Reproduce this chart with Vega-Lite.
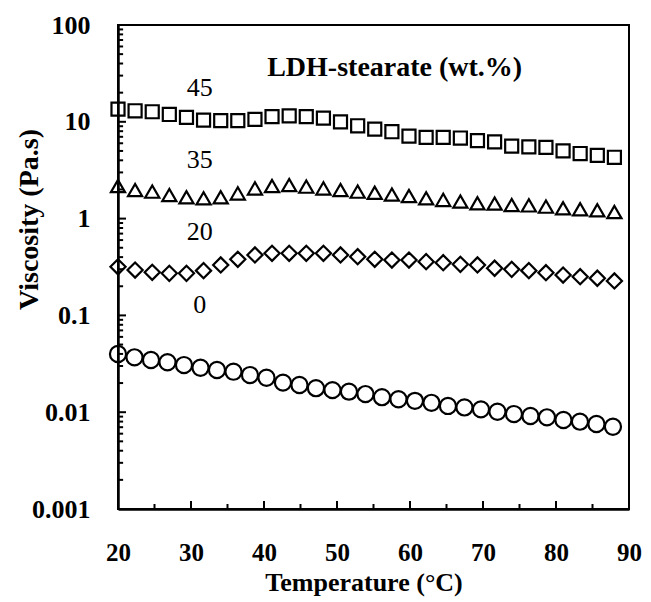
{
  "$schema": "https://vega.github.io/schema/vega-lite/v6.json",
  "autosize": "none",
  "width": 511,
  "height": 484,
  "padding": {"left": 118, "top": 25, "right": 22, "bottom": 93},
  "background": "white",
  "config": {
    "view": {"stroke": "black", "strokeWidth": 2},
    "font": "Liberation Serif"
  },
  "datasets": {
    "pts": [
      {"s": "45", "T": 20.00, "v": 13.5},
      {"s": "45", "T": 22.34, "v": 13.0},
      {"s": "45", "T": 24.69, "v": 12.7},
      {"s": "45", "T": 27.03, "v": 11.9},
      {"s": "45", "T": 29.38, "v": 11.1},
      {"s": "45", "T": 31.72, "v": 10.4},
      {"s": "45", "T": 34.07, "v": 10.3},
      {"s": "45", "T": 36.41, "v": 10.3},
      {"s": "45", "T": 38.76, "v": 10.6},
      {"s": "45", "T": 41.10, "v": 11.3},
      {"s": "45", "T": 43.45, "v": 11.5},
      {"s": "45", "T": 45.79, "v": 11.3},
      {"s": "45", "T": 48.14, "v": 10.9},
      {"s": "45", "T": 50.48, "v": 10.0},
      {"s": "45", "T": 52.83, "v": 9.1},
      {"s": "45", "T": 55.17, "v": 8.4},
      {"s": "45", "T": 57.52, "v": 7.9},
      {"s": "45", "T": 59.86, "v": 7.1},
      {"s": "45", "T": 62.21, "v": 6.9},
      {"s": "45", "T": 64.55, "v": 6.9},
      {"s": "45", "T": 66.90, "v": 6.8},
      {"s": "45", "T": 69.24, "v": 6.4},
      {"s": "45", "T": 71.59, "v": 6.2},
      {"s": "45", "T": 73.93, "v": 5.6},
      {"s": "45", "T": 76.28, "v": 5.5},
      {"s": "45", "T": 78.62, "v": 5.45},
      {"s": "45", "T": 80.97, "v": 5.0},
      {"s": "45", "T": 83.31, "v": 4.7},
      {"s": "45", "T": 85.66, "v": 4.5},
      {"s": "45", "T": 88.00, "v": 4.3},

      {"s": "35", "T": 20.00, "v": 2.17},
      {"s": "35", "T": 22.34, "v": 1.97},
      {"s": "35", "T": 24.69, "v": 1.90},
      {"s": "35", "T": 27.03, "v": 1.75},
      {"s": "35", "T": 29.38, "v": 1.66},
      {"s": "35", "T": 31.72, "v": 1.62},
      {"s": "35", "T": 34.07, "v": 1.66},
      {"s": "35", "T": 36.41, "v": 1.82},
      {"s": "35", "T": 38.76, "v": 2.05},
      {"s": "35", "T": 41.10, "v": 2.17},
      {"s": "35", "T": 43.45, "v": 2.22},
      {"s": "35", "T": 45.79, "v": 2.14},
      {"s": "35", "T": 48.14, "v": 2.05},
      {"s": "35", "T": 50.48, "v": 1.97},
      {"s": "35", "T": 52.83, "v": 1.90},
      {"s": "35", "T": 55.17, "v": 1.85},
      {"s": "35", "T": 57.52, "v": 1.77},
      {"s": "35", "T": 59.86, "v": 1.71},
      {"s": "35", "T": 62.21, "v": 1.62},
      {"s": "35", "T": 64.55, "v": 1.56},
      {"s": "35", "T": 66.90, "v": 1.50},
      {"s": "35", "T": 69.24, "v": 1.44},
      {"s": "35", "T": 71.59, "v": 1.43},
      {"s": "35", "T": 73.93, "v": 1.38},
      {"s": "35", "T": 76.28, "v": 1.37},
      {"s": "35", "T": 78.62, "v": 1.33},
      {"s": "35", "T": 80.97, "v": 1.28},
      {"s": "35", "T": 83.31, "v": 1.25},
      {"s": "35", "T": 85.66, "v": 1.22},
      {"s": "35", "T": 88.00, "v": 1.17},

      {"s": "20", "T": 20.00, "v": 0.318},
      {"s": "20", "T": 22.34, "v": 0.294},
      {"s": "20", "T": 24.69, "v": 0.279},
      {"s": "20", "T": 27.03, "v": 0.272},
      {"s": "20", "T": 29.38, "v": 0.272},
      {"s": "20", "T": 31.72, "v": 0.290},
      {"s": "20", "T": 34.07, "v": 0.332},
      {"s": "20", "T": 36.41, "v": 0.380},
      {"s": "20", "T": 38.76, "v": 0.421},
      {"s": "20", "T": 41.10, "v": 0.438},
      {"s": "20", "T": 43.45, "v": 0.438},
      {"s": "20", "T": 45.79, "v": 0.438},
      {"s": "20", "T": 48.14, "v": 0.438},
      {"s": "20", "T": 50.48, "v": 0.421},
      {"s": "20", "T": 52.83, "v": 0.404},
      {"s": "20", "T": 55.17, "v": 0.380},
      {"s": "20", "T": 57.52, "v": 0.373},
      {"s": "20", "T": 59.86, "v": 0.373},
      {"s": "20", "T": 62.21, "v": 0.359},
      {"s": "20", "T": 64.55, "v": 0.350},
      {"s": "20", "T": 66.90, "v": 0.337},
      {"s": "20", "T": 69.24, "v": 0.332},
      {"s": "20", "T": 71.59, "v": 0.307},
      {"s": "20", "T": 73.93, "v": 0.299},
      {"s": "20", "T": 76.28, "v": 0.290},
      {"s": "20", "T": 78.62, "v": 0.276},
      {"s": "20", "T": 80.97, "v": 0.261},
      {"s": "20", "T": 83.31, "v": 0.251},
      {"s": "20", "T": 85.66, "v": 0.242},
      {"s": "20", "T": 88.00, "v": 0.227},

      {"s": "0", "T": 20.00, "v": 0.0399},
      {"s": "0", "T": 22.26, "v": 0.0369},
      {"s": "0", "T": 24.52, "v": 0.0346},
      {"s": "0", "T": 26.78, "v": 0.0328},
      {"s": "0", "T": 29.04, "v": 0.0307},
      {"s": "0", "T": 31.30, "v": 0.0288},
      {"s": "0", "T": 33.56, "v": 0.0273},
      {"s": "0", "T": 35.82, "v": 0.0262},
      {"s": "0", "T": 38.08, "v": 0.0242},
      {"s": "0", "T": 40.34, "v": 0.0227},
      {"s": "0", "T": 42.60, "v": 0.0202},
      {"s": "0", "T": 44.86, "v": 0.0191},
      {"s": "0", "T": 47.12, "v": 0.0177},
      {"s": "0", "T": 49.38, "v": 0.0169},
      {"s": "0", "T": 51.64, "v": 0.0163},
      {"s": "0", "T": 53.90, "v": 0.0154},
      {"s": "0", "T": 56.16, "v": 0.0143},
      {"s": "0", "T": 58.42, "v": 0.0136},
      {"s": "0", "T": 60.68, "v": 0.0131},
      {"s": "0", "T": 62.94, "v": 0.0125},
      {"s": "0", "T": 65.20, "v": 0.0116},
      {"s": "0", "T": 67.46, "v": 0.0112},
      {"s": "0", "T": 69.72, "v": 0.0107},
      {"s": "0", "T": 71.98, "v": 0.0101},
      {"s": "0", "T": 74.24, "v": 0.00957},
      {"s": "0", "T": 76.50, "v": 0.00914},
      {"s": "0", "T": 78.76, "v": 0.00885},
      {"s": "0", "T": 81.02, "v": 0.00830},
      {"s": "0", "T": 83.28, "v": 0.00798},
      {"s": "0", "T": 85.54, "v": 0.00755},
      {"s": "0", "T": 87.80, "v": 0.00708}
    ],
    "nums": [
      {"t": "45", "T": 31.2, "v": 22.3},
      {"t": "35", "T": 31.2, "v": 4.03},
      {"t": "20", "T": 31.2, "v": 0.728},
      {"t": "0", "T": 31.2, "v": 0.128}
    ],
    "head": [
      {"t": "LDH-stearate (wt.%)", "T": 57.9, "v": 36.0}
    ],
    "ymaj": [{"v": 0.001}, {"v": 0.01}, {"v": 0.1}, {"v": 1}, {"v": 10}, {"v": 100}],
    "ymin": [
      {"v": 0.002}, {"v": 0.003}, {"v": 0.004}, {"v": 0.005}, {"v": 0.006}, {"v": 0.007}, {"v": 0.008}, {"v": 0.009},
      {"v": 0.02}, {"v": 0.03}, {"v": 0.04}, {"v": 0.05}, {"v": 0.06}, {"v": 0.07}, {"v": 0.08}, {"v": 0.09},
      {"v": 0.2}, {"v": 0.3}, {"v": 0.4}, {"v": 0.5}, {"v": 0.6}, {"v": 0.7}, {"v": 0.8}, {"v": 0.9},
      {"v": 2}, {"v": 3}, {"v": 4}, {"v": 5}, {"v": 6}, {"v": 7}, {"v": 8}, {"v": 9},
      {"v": 20}, {"v": 30}, {"v": 40}, {"v": 50}, {"v": 60}, {"v": 70}, {"v": 80}, {"v": 90}
    ],
    "xmaj": [{"T": 30}, {"T": 40}, {"T": 50}, {"T": 60}, {"T": 70}, {"T": 80}],
    "xmin": [{"T": 25}, {"T": 35}, {"T": 45}, {"T": 55}, {"T": 65}, {"T": 75}, {"T": 85}]
  },
  "resolve": {"axis": {"x": "independent", "y": "independent"}},
  "layer": [
    {
      "data": {"name": "pts"},
      "mark": {"type": "point", "filled": false, "strokeWidth": 2.2, "color": "black", "opacity": 1},
      "encoding": {
        "x": {
          "field": "T", "type": "quantitative",
          "scale": {"domain": [20, 90], "nice": false, "zero": false},
          "axis": {
            "orient": "bottom",
            "title": "Temperature (°C)",
            "values": [20, 30, 40, 50, 60, 70, 80, 90],
            "tickSize": -8,
            "tickWidth": 2,
            "tickColor": "black",
            "tickOpacity": 0,
            "domainColor": "black",
            "domainWidth": 2.5,
            "grid": true,
            "gridOpacity": 0,
            "labelFont": "Liberation Serif",
            "labelFontSize": 25,
            "labelFontWeight": "bold",
            "labelColor": "black",
            "labelPadding": 39,
            "labelFlush": false,
            "titleFont": "Liberation Serif",
            "titleFontSize": 26,
            "titleFontWeight": "bold",
            "titleColor": "black",
            "titleX": 245.5,
            "titleY": 73,
            "titleBaseline": "middle",
            "titleAnchor": null
          }
        },
        "y": {
          "field": "v", "type": "quantitative",
          "scale": {"type": "log", "domain": [0.001, 100], "nice": false},
          "axis": {
            "orient": "left",
            "title": "Viscosity (Pa.s)",
            "values": [0.001, 0.01, 0.1, 1, 10, 100],
            "format": "~g",
            "tickSize": -8,
            "tickWidth": 2,
            "tickColor": "black",
            "tickOpacity": 0,
            "domainColor": "black",
            "domainWidth": 2.5,
            "grid": true,
            "gridOpacity": 0,
            "labelFont": "Liberation Serif",
            "labelFontSize": 26,
            "labelFontWeight": "bold",
            "labelColor": "black",
            "labelPadding": 36,
            "labelFlush": false,
            "labelOverlap": false,
            "titleFont": "Liberation Serif",
            "titleFontSize": 28,
            "titleFontWeight": "bold",
            "titleColor": "black",
            "titleX": -89,
            "titleY": 194,
            "titleAngle": -90,
            "titleAlign": "center",
            "titleBaseline": "middle",
            "titleAnchor": null
          }
        },
        "shape": {
          "field": "s", "type": "nominal",
          "scale": {"domain": ["45", "35", "20", "0"], "range": ["square", "triangle-up", "diamond", "circle"]},
          "legend": null
        },
        "size": {
          "field": "s", "type": "nominal",
          "scale": {"domain": ["45", "35", "20", "0"], "range": [170, 260, 270, 105]},
          "legend": null
        }
      }
    },
    {
      "data": {"name": "ymaj"},
      "mark": {"type": "rule", "color": "black", "strokeWidth": 2},
      "encoding": {
        "y": {"field": "v", "type": "quantitative", "scale": {"type": "log", "domain": [0.001, 100], "nice": false}, "axis": null},
        "x": {"datum": 20, "type": "quantitative", "scale": {"domain": [20, 90], "nice": false, "zero": false}, "axis": null},
        "x2": {"datum": 21.1}
      }
    },
    {
      "data": {"name": "ymin"},
      "mark": {"type": "rule", "color": "black", "strokeWidth": 2},
      "encoding": {
        "y": {"field": "v", "type": "quantitative", "scale": {"type": "log", "domain": [0.001, 100], "nice": false}, "axis": null},
        "x": {"datum": 20, "type": "quantitative", "scale": {"domain": [20, 90], "nice": false, "zero": false}, "axis": null},
        "x2": {"datum": 20.7}
      }
    },
    {
      "data": {"name": "xmaj"},
      "mark": {"type": "rule", "color": "black", "strokeWidth": 2},
      "encoding": {
        "x": {"field": "T", "type": "quantitative", "scale": {"domain": [20, 90], "nice": false, "zero": false}, "axis": null},
        "y": {"datum": 0.001, "type": "quantitative", "scale": {"type": "log", "domain": [0.001, 100], "nice": false}, "axis": null},
        "y2": {"datum": 0.00121}
      }
    },
    {
      "data": {"name": "xmin"},
      "mark": {"type": "rule", "color": "black", "strokeWidth": 2},
      "encoding": {
        "x": {"field": "T", "type": "quantitative", "scale": {"domain": [20, 90], "nice": false, "zero": false}, "axis": null},
        "y": {"datum": 0.001, "type": "quantitative", "scale": {"type": "log", "domain": [0.001, 100], "nice": false}, "axis": null},
        "y2": {"datum": 0.001126}
      }
    },
    {
      "data": {"name": "nums"},
      "mark": {"type": "text", "font": "Liberation Serif", "fontSize": 26, "color": "black", "align": "center", "baseline": "middle"},
      "encoding": {
        "x": {"field": "T", "type": "quantitative", "scale": {"domain": [20, 90], "nice": false, "zero": false}, "axis": null},
        "y": {"field": "v", "type": "quantitative", "scale": {"type": "log", "domain": [0.001, 100], "nice": false}, "axis": null},
        "text": {"field": "t"}
      }
    },
    {
      "data": {"name": "head"},
      "mark": {"type": "text", "font": "Liberation Serif", "fontSize": 28, "fontWeight": "bold", "color": "black", "align": "center", "baseline": "middle"},
      "encoding": {
        "x": {"field": "T", "type": "quantitative", "axis": null},
        "y": {"field": "v", "type": "quantitative", "axis": null},
        "text": {"field": "t"}
      }
    }
  ]
}
